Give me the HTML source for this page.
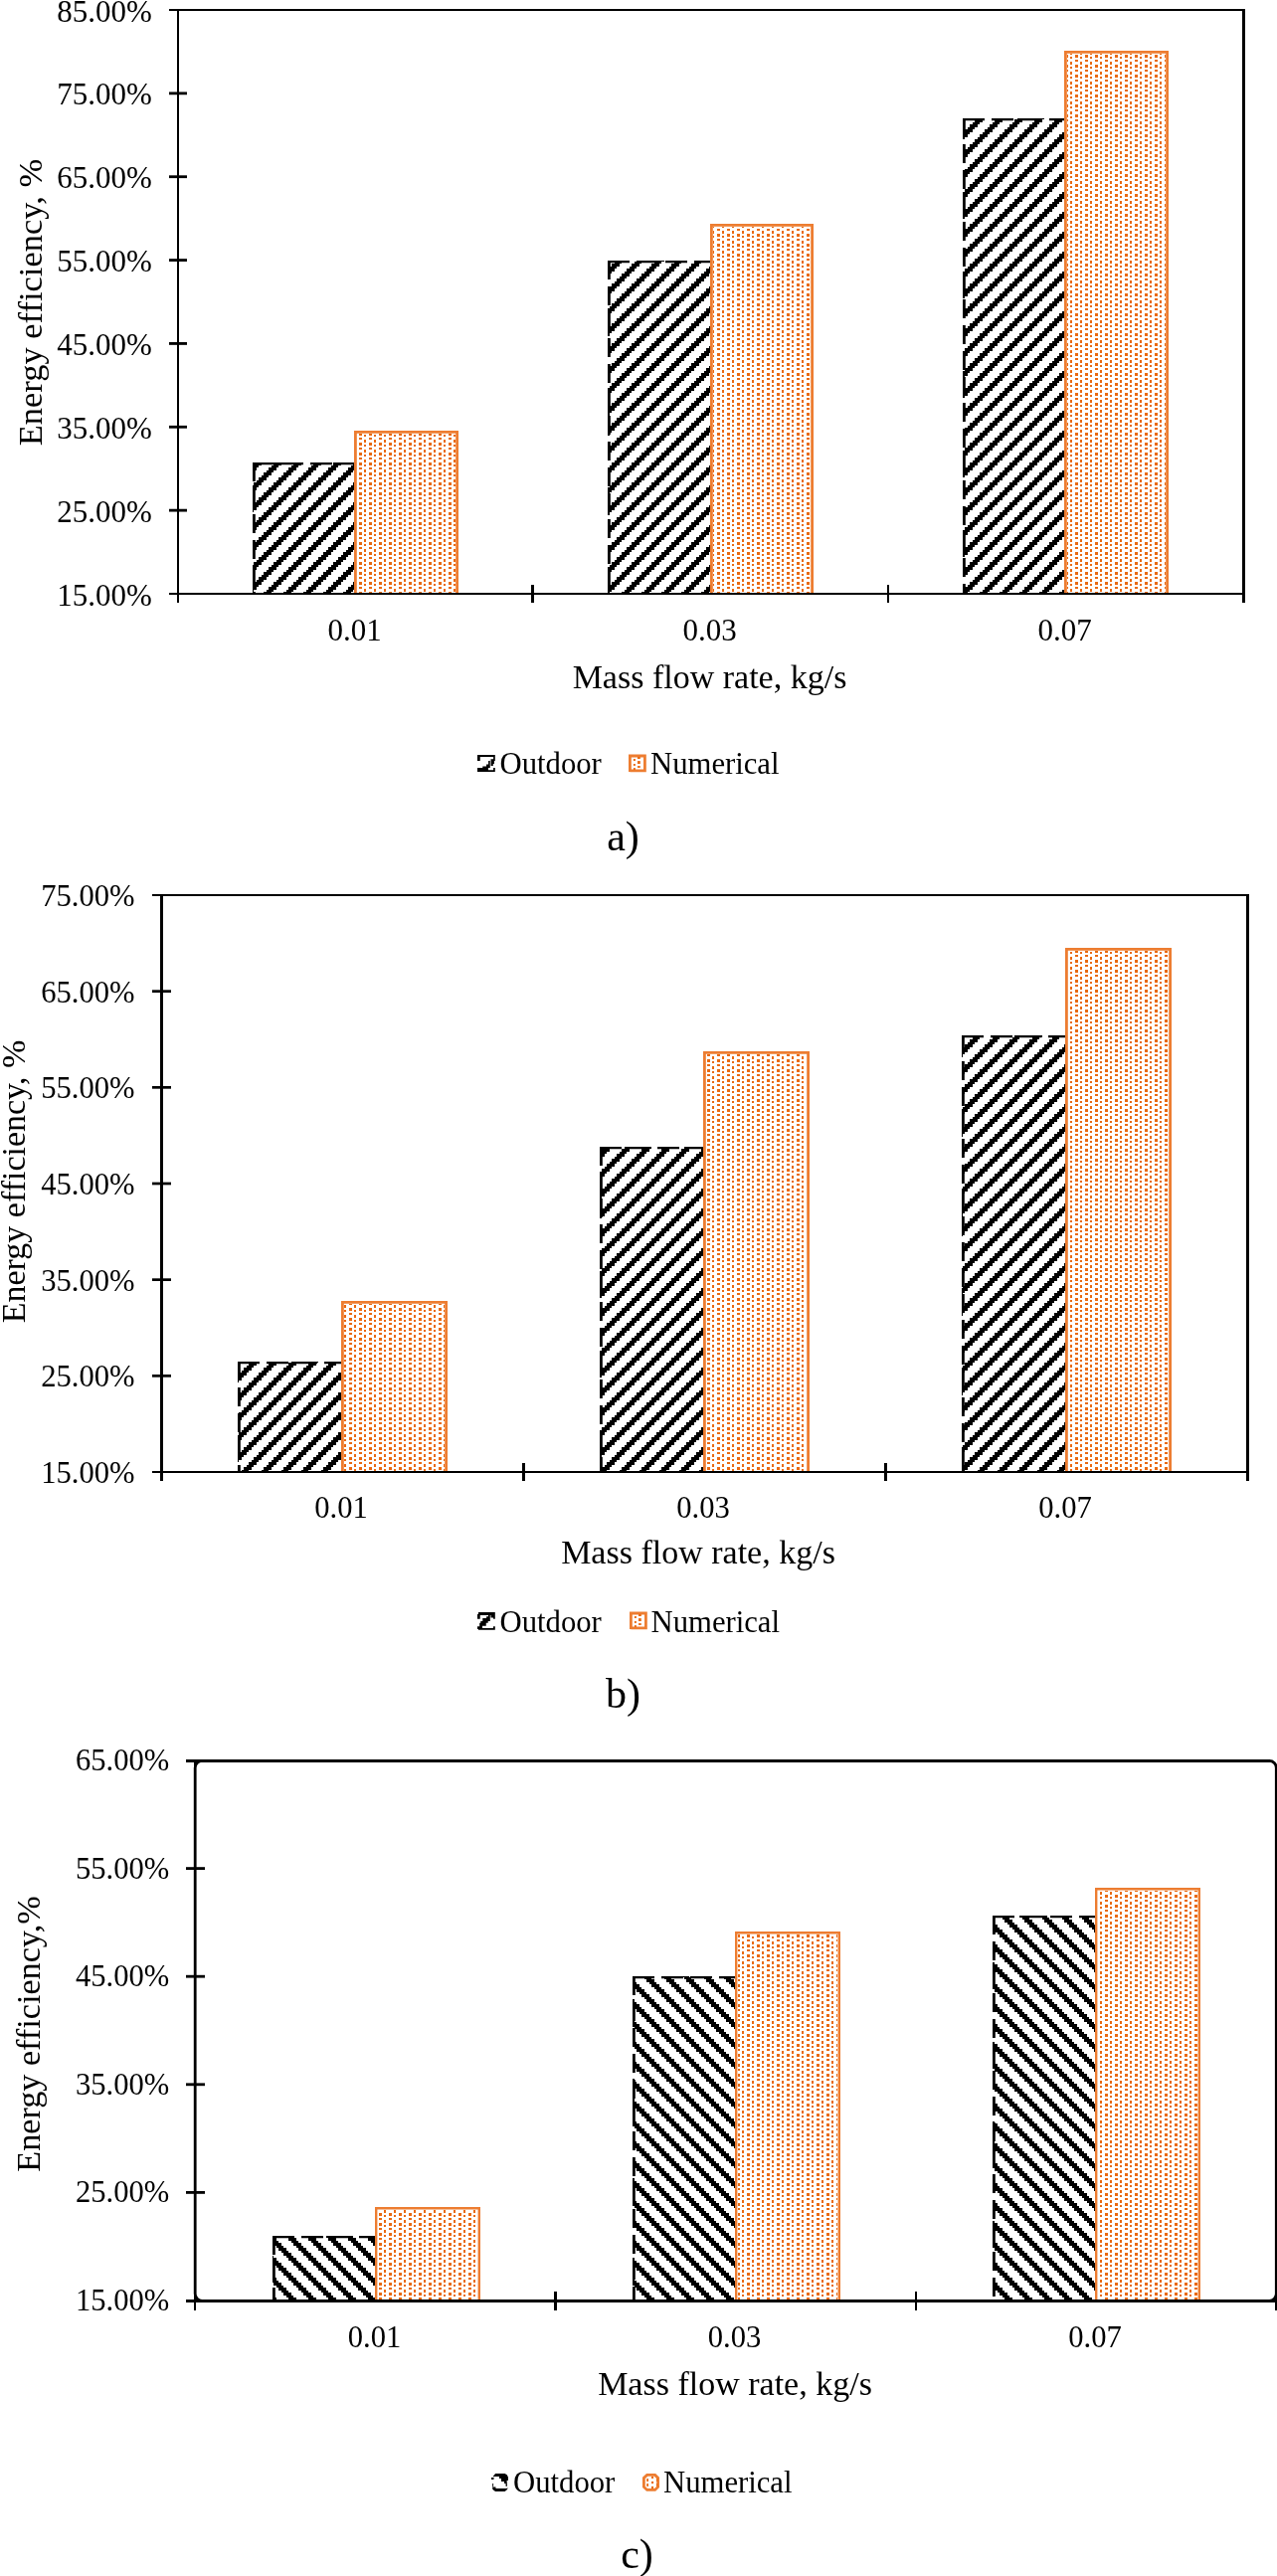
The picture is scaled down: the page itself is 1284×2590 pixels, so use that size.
<!DOCTYPE html>
<html><head><meta charset="utf-8"><title>Energy efficiency charts</title>
<style>html,body{margin:0;padding:0;background:#fff;} svg{display:block;will-change:transform;} text{font-family:"Liberation Serif", serif;fill:#000;}</style>
</head><body>
<svg width="1284" height="2590" viewBox="0 0 1284 2590">
<rect x="0" y="0" width="1284" height="2590" fill="#fff"/>

<defs>
<pattern id="hatchA" patternUnits="userSpaceOnUse" x="0" y="0" width="20" height="20"><g fill="#000" shape-rendering="crispEdges"><rect x="0" y="0" width="8" height="3"/><rect x="0" y="3" width="5" height="2"/><rect x="18" y="3" width="2" height="2"/><rect x="0" y="5" width="3" height="3"/><rect x="15" y="5" width="5" height="3"/><rect x="13" y="8" width="7" height="2"/><rect x="10" y="10" width="8" height="3"/><rect x="8" y="13" width="7" height="2"/><rect x="5" y="15" width="8" height="3"/><rect x="3" y="18" width="7" height="2"/></g></pattern>
<pattern id="hatchC" patternUnits="userSpaceOnUse" x="0" y="0" width="20" height="20"><g fill="#000" shape-rendering="crispEdges"><rect x="0" y="0" width="8" height="3"/><rect x="3" y="3" width="7" height="2"/><rect x="5" y="5" width="8" height="3"/><rect x="8" y="8" width="7" height="2"/><rect x="10" y="10" width="8" height="3"/><rect x="13" y="13" width="7" height="2"/><rect x="0" y="15" width="3" height="3"/><rect x="15" y="15" width="5" height="3"/><rect x="0" y="18" width="5" height="2"/><rect x="18" y="18" width="2" height="2"/></g></pattern>
<pattern id="dots" patternUnits="userSpaceOnUse" x="0" y="0" width="10" height="10">
  <g fill="#E96A12" shape-rendering="crispEdges">
  <rect x="1" y="0" width="3" height="2"/><rect x="1" y="5" width="3" height="3"/>
  <rect x="6" y="2" width="2" height="3"/><rect x="6" y="7" width="2" height="2"/>
  </g>
</pattern>
</defs>
<rect x="254" y="465" width="102" height="131" fill="#fff"/>
<rect x="254" y="465" width="102" height="131" fill="url(#hatchA)"/>
<path d="M254,466.1 H356" fill="none" stroke="#000" stroke-width="2.2" stroke-dasharray="22 7"/>
<path d="M255.4,465 V596" fill="none" stroke="#000" stroke-width="2.8" stroke-dasharray="19 7"/>
<rect x="356" y="433" width="105" height="163" fill="#fff"/>
<rect x="359" y="436" width="99" height="160" fill="url(#dots)"/>
<path d="M357.4,597 V434.4 H459.6 V597" fill="none" stroke="#ED7D31" stroke-width="2.8"/>
<rect x="611" y="262" width="103" height="334" fill="#fff"/>
<rect x="611" y="262" width="103" height="334" fill="url(#hatchA)"/>
<path d="M611,263.1 H714" fill="none" stroke="#000" stroke-width="2.2" stroke-dasharray="22 7"/>
<path d="M612.4,262 V596" fill="none" stroke="#000" stroke-width="2.8" stroke-dasharray="19 7"/>
<rect x="714" y="225" width="104" height="371" fill="#fff"/>
<rect x="717" y="228" width="98" height="368" fill="url(#dots)"/>
<path d="M715.4,597 V226.4 H816.6 V597" fill="none" stroke="#ED7D31" stroke-width="2.8"/>
<rect x="968" y="119" width="102" height="477" fill="#fff"/>
<rect x="968" y="119" width="102" height="477" fill="url(#hatchA)"/>
<path d="M968,120.1 H1070" fill="none" stroke="#000" stroke-width="2.2" stroke-dasharray="22 7"/>
<path d="M969.4,119 V596" fill="none" stroke="#000" stroke-width="2.8" stroke-dasharray="19 7"/>
<rect x="1070" y="51" width="105" height="545" fill="#fff"/>
<rect x="1073" y="54" width="99" height="542" fill="url(#dots)"/>
<path d="M1071.4,597 V52.4 H1173.6 V597" fill="none" stroke="#ED7D31" stroke-width="2.8"/>
<rect x="170" y="9" width="1082" height="2" fill="#000" />
<rect x="178" y="9" width="2" height="597" fill="#000" />
<rect x="1249" y="9" width="3" height="597" fill="#000" />
<rect x="170" y="596" width="1082" height="2" fill="#000" />
<rect x="170" y="92.45714285714286" width="18" height="2.8" fill="#000" />
<rect x="170" y="176.31428571428572" width="18" height="2.8" fill="#000" />
<rect x="170" y="260.1714285714286" width="18" height="2.8" fill="#000" />
<rect x="170" y="344.02857142857147" width="18" height="2.8" fill="#000" />
<rect x="170" y="427.88571428571436" width="18" height="2.8" fill="#000" />
<rect x="170" y="511.74285714285713" width="18" height="2.8" fill="#000" />
<rect x="534" y="588" width="3" height="18" fill="#000" />
<rect x="892" y="588" width="2" height="18" fill="#000" />
<text x="152.8" y="21.6" font-size="31" text-anchor="end" >85.00%</text>
<text x="152.8" y="105.45714285714286" font-size="31" text-anchor="end" >75.00%</text>
<text x="152.8" y="189.31428571428572" font-size="31" text-anchor="end" >65.00%</text>
<text x="152.8" y="273.1714285714286" font-size="31" text-anchor="end" >55.00%</text>
<text x="152.8" y="357.02857142857147" font-size="31" text-anchor="end" >45.00%</text>
<text x="152.8" y="440.88571428571436" font-size="31" text-anchor="end" >35.00%</text>
<text x="152.8" y="524.7428571428571" font-size="31" text-anchor="end" >25.00%</text>
<text x="152.8" y="608.6" font-size="31" text-anchor="end" >15.00%</text>
<text x="356.5" y="643.5" font-size="31" text-anchor="middle" >0.01</text>
<text x="713.5" y="643.5" font-size="31" text-anchor="middle" >0.03</text>
<text x="1070.5" y="643.5" font-size="31" text-anchor="middle" >0.07</text>
<text x="713.5" y="692" font-size="34" text-anchor="middle" >Mass flow rate, kg/s</text>
<text x="0" y="0" font-size="34.5" text-anchor="middle" transform="translate(42,304) rotate(-90)">Energy efficiency, %</text>
<g transform="translate(480,759)" fill="#000"><path d="M0,0 H17.8 V5.9 H16.9 V9 H15.8 V11 H13.6 V4.3 H16.1 V2.04 H2.75 V5.9 H0 Z"/><path d="M11.1,6.1 H12.8 V13 H10.9 V15.3 H16.1 V13 H17.8 V17 H0 V13 H5.3 V11.4 H9.06 V9.4 H11.1 Z"/><rect x="12.8" y="4.3" width="0.8" height="6.7" fill="#888"/></g>
<g transform="translate(632,759)"><path d="M1.4,17 V1 H16.4 V15.9 H1.4" fill="none" stroke="#ED7D31" stroke-width="2.8"/><rect x="4.9" y="4" width="2" height="2" fill="#E96A12"/><rect x="4.9" y="9" width="2" height="1.9" fill="#E96A12"/><rect x="4.9" y="13.1" width="2" height="2" fill="#E96A12"/><rect x="9" y="1.9" width="2.8" height="2.1" fill="#E96A12"/><rect x="9" y="6.1" width="2.8" height="2.9" fill="#E96A12"/><rect x="9" y="11.1" width="2.8" height="1.8" fill="#E96A12"/></g>
<text x="502.5" y="778" font-size="30.7" text-anchor="start" >Outdoor</text>
<text x="654" y="778" font-size="30.7" text-anchor="start" >Numerical</text>
<text x="626.5" y="854.5" font-size="42" text-anchor="middle" >a)</text>
<rect x="239" y="1369" width="104" height="110" fill="#fff"/>
<rect x="239" y="1369" width="104" height="110" fill="url(#hatchA)"/>
<path d="M239,1370.1 H343" fill="none" stroke="#000" stroke-width="2.2" stroke-dasharray="22 7"/>
<path d="M240.4,1369 V1479" fill="none" stroke="#000" stroke-width="2.8" stroke-dasharray="19 7"/>
<rect x="343" y="1308" width="107" height="171" fill="#fff"/>
<rect x="346" y="1311" width="101" height="168" fill="url(#dots)"/>
<path d="M344.4,1480 V1309.4 H448.6 V1480" fill="none" stroke="#ED7D31" stroke-width="2.8"/>
<rect x="603" y="1153" width="104" height="326" fill="#fff"/>
<rect x="603" y="1153" width="104" height="326" fill="url(#hatchA)"/>
<path d="M603,1154.1 H707" fill="none" stroke="#000" stroke-width="2.2" stroke-dasharray="22 7"/>
<path d="M604.4,1153 V1479" fill="none" stroke="#000" stroke-width="2.8" stroke-dasharray="19 7"/>
<rect x="707" y="1057" width="107" height="422" fill="#fff"/>
<rect x="710" y="1060" width="101" height="419" fill="url(#dots)"/>
<path d="M708.4,1480 V1058.4 H812.6 V1480" fill="none" stroke="#ED7D31" stroke-width="2.8"/>
<rect x="967" y="1041" width="104" height="438" fill="#fff"/>
<rect x="967" y="1041" width="104" height="438" fill="url(#hatchA)"/>
<path d="M967,1042.1 H1071" fill="none" stroke="#000" stroke-width="2.2" stroke-dasharray="22 7"/>
<path d="M968.4,1041 V1479" fill="none" stroke="#000" stroke-width="2.8" stroke-dasharray="19 7"/>
<rect x="1071" y="953" width="107" height="526" fill="#fff"/>
<rect x="1074" y="956" width="101" height="523" fill="url(#dots)"/>
<path d="M1072.4,1480 V954.4 H1176.6 V1480" fill="none" stroke="#ED7D31" stroke-width="2.8"/>
<rect x="153" y="899" width="1103" height="2" fill="#000" />
<rect x="161" y="899" width="3" height="590" fill="#000" />
<rect x="1253" y="899" width="3" height="590" fill="#000" />
<rect x="153" y="1479" width="1103" height="2" fill="#000" />
<rect x="153" y="995.3166666666666" width="19" height="2.7" fill="#000" />
<rect x="153" y="1091.9833333333333" width="19" height="2.7" fill="#000" />
<rect x="153" y="1188.65" width="19" height="2.7" fill="#000" />
<rect x="153" y="1285.3166666666668" width="19" height="2.7" fill="#000" />
<rect x="153" y="1381.9833333333336" width="19" height="2.7" fill="#000" />
<rect x="525" y="1471" width="3" height="18" fill="#000" />
<rect x="889" y="1471" width="3" height="18" fill="#000" />
<text x="135.6" y="911.0" font-size="30.6" text-anchor="end" >75.00%</text>
<text x="135.6" y="1007.6666666666666" font-size="30.6" text-anchor="end" >65.00%</text>
<text x="135.6" y="1104.3333333333333" font-size="30.6" text-anchor="end" >55.00%</text>
<text x="135.6" y="1201.0" font-size="30.6" text-anchor="end" >45.00%</text>
<text x="135.6" y="1297.6666666666667" font-size="30.6" text-anchor="end" >35.00%</text>
<text x="135.6" y="1394.3333333333335" font-size="30.6" text-anchor="end" >25.00%</text>
<text x="135.6" y="1491.0" font-size="30.6" text-anchor="end" >15.00%</text>
<text x="343" y="1526.3" font-size="30.6" text-anchor="middle" >0.01</text>
<text x="707" y="1526.3" font-size="30.6" text-anchor="middle" >0.03</text>
<text x="1071" y="1526.3" font-size="30.6" text-anchor="middle" >0.07</text>
<text x="702" y="1572.4" font-size="34" text-anchor="middle" >Mass flow rate, kg/s</text>
<text x="0" y="0" font-size="34" text-anchor="middle" transform="translate(25,1188) rotate(-90)">Energy efficiency, %</text>
<g transform="translate(480,1621)" fill="#000"><path d="M1,0 H17.8 V6.8 H16.1 V5.4 H14.05 V2.95 H2.75 V6.8 H0 V2 H1 Z"/><path d="M11,2.95 H12.8 V8.9 H10.7 V10.7 H8.75 V13.75 H5 V16 H16 V14.15 H17.8 V17.8 H1 V17 H0 V14.15 H2.2 V10.7 H3.3 V8.9 H5.3 V6.1 H9.1 V4.2 H11 Z"/><rect x="12.8" y="2.95" width="1.25" height="2.45" fill="#777"/></g>
<g transform="translate(633,1621)"><path d="M1.4,17 V1 H16.4 V15.9 H1.4" fill="none" stroke="#ED7D31" stroke-width="2.8"/><rect x="4.9" y="4" width="2" height="2" fill="#E96A12"/><rect x="4.9" y="9" width="2" height="1.9" fill="#E96A12"/><rect x="4.9" y="13.1" width="2" height="2" fill="#E96A12"/><rect x="9" y="1.9" width="2.8" height="2.1" fill="#E96A12"/><rect x="9" y="6.1" width="2.8" height="2.9" fill="#E96A12"/><rect x="9" y="11.1" width="2.8" height="1.8" fill="#E96A12"/></g>
<text x="502.5" y="1640.5" font-size="30.7" text-anchor="start" >Outdoor</text>
<text x="654.5" y="1640.5" font-size="30.7" text-anchor="start" >Numerical</text>
<text x="626.5" y="1716.5" font-size="42" text-anchor="middle" >b)</text>
<rect x="274" y="2248" width="103" height="64" fill="#fff"/>
<rect x="274" y="2248" width="103" height="64" fill="url(#hatchC)"/>
<path d="M274,2249.1 H377" fill="none" stroke="#000" stroke-width="2.2" stroke-dasharray="22 7"/>
<path d="M275.4,2248 V2312" fill="none" stroke="#000" stroke-width="2.8" stroke-dasharray="19 7"/>
<rect x="377" y="2219" width="106" height="93" fill="#fff"/>
<rect x="380" y="2222" width="100" height="90" fill="url(#dots)"/>
<path d="M378.2,2313 V2220.2 H481.8 V2313" fill="none" stroke="#ED7D31" stroke-width="2.4"/>
<rect x="636" y="1987" width="103" height="325" fill="#fff"/>
<rect x="636" y="1987" width="103" height="325" fill="url(#hatchC)"/>
<path d="M636,1988.1 H739" fill="none" stroke="#000" stroke-width="2.2" stroke-dasharray="22 7"/>
<path d="M637.4,1987 V2312" fill="none" stroke="#000" stroke-width="2.8" stroke-dasharray="19 7"/>
<rect x="739" y="1942" width="106" height="370" fill="#fff"/>
<rect x="742" y="1945" width="100" height="367" fill="url(#dots)"/>
<path d="M740.2,2313 V1943.2 H843.8 V2313" fill="none" stroke="#ED7D31" stroke-width="2.4"/>
<rect x="998" y="1926" width="103" height="386" fill="#fff"/>
<rect x="998" y="1926" width="103" height="386" fill="url(#hatchC)"/>
<path d="M998,1927.1 H1101" fill="none" stroke="#000" stroke-width="2.2" stroke-dasharray="22 7"/>
<path d="M999.4,1926 V2312" fill="none" stroke="#000" stroke-width="2.8" stroke-dasharray="19 7"/>
<rect x="1101" y="1898" width="106" height="414" fill="#fff"/>
<rect x="1104" y="1901" width="100" height="411" fill="url(#dots)"/>
<path d="M1102.2,2313 V1899.2 H1205.8 V2313" fill="none" stroke="#ED7D31" stroke-width="2.4"/>
<rect x="196.2" y="1770.4" width="1087.1" height="542.9000000000001" rx="7" ry="7" fill="none" stroke="#000" stroke-width="2.8"/>
<rect x="187" y="1769" width="1090" height="3" fill="#000" />
<rect x="195" y="1769" width="2" height="554" fill="#000" />
<rect x="1282" y="1778" width="3" height="545" fill="#000" />
<rect x="187" y="2312" width="1098" height="3" fill="#000" />
<rect x="187" y="1877.1999999999998" width="19" height="2.8" fill="#000" />
<rect x="187" y="1985.8" width="19" height="2.8" fill="#000" />
<rect x="187" y="2094.4" width="19" height="2.8" fill="#000" />
<rect x="187" y="2203.0" width="19" height="2.8" fill="#000" />
<rect x="557" y="2304" width="3" height="19" fill="#000" />
<rect x="920" y="2304" width="2" height="19" fill="#000" />
<text x="170.3" y="1780.0" font-size="30.6" text-anchor="end" >65.00%</text>
<text x="170.3" y="1888.6" font-size="30.6" text-anchor="end" >55.00%</text>
<text x="170.3" y="1997.2" font-size="30.6" text-anchor="end" >45.00%</text>
<text x="170.3" y="2105.8" font-size="30.6" text-anchor="end" >35.00%</text>
<text x="170.3" y="2214.4" font-size="30.6" text-anchor="end" >25.00%</text>
<text x="170.3" y="2323.0" font-size="30.6" text-anchor="end" >15.00%</text>
<text x="376.5" y="2360.3" font-size="30.6" text-anchor="middle" >0.01</text>
<text x="738.5" y="2360.3" font-size="30.6" text-anchor="middle" >0.03</text>
<text x="1101" y="2360.3" font-size="30.6" text-anchor="middle" >0.07</text>
<text x="739" y="2408" font-size="34" text-anchor="middle" >Mass flow rate, kg/s</text>
<text x="0" y="0" font-size="34.2" text-anchor="middle" transform="translate(40,2045) rotate(-90)">Energy efficiency,%</text>
<g transform="translate(494,2487)" fill="#000"><path d="M4.1,0 H13.6 L15.7,1.3 L16.9,3.5 V7 H15.6 L16,12.8 H14.6 L14.5,10 H13 V7.9 H10 V5.1 H8 V3 H2.8 L2,3.5 L2,2.6 Z"/><rect x="0" y="4" width="2.5" height="2"/><rect x="1.2" y="10" width="0.9" height="3.4"/><path d="M1.2,13.4 H4.5 V15 H15 L16.9,14.5 L15.5,16.5 L13.6,17.9 H4.1 L2,16.5 L1.2,15.5 Z"/></g>
<g transform="translate(646,2487)"><path d="M4.6,1.4 H12.6 L15.6,4.4 V13.4 L12.6,16.4 H4.6 L1.4,13.4 V4.4 Z" fill="none" stroke="#ED7D31" stroke-width="2.8"/><rect x="4.2" y="5.1" width="1.8" height="2.9" fill="#E96A12"/><rect x="4.2" y="10.1" width="1.8" height="2.8" fill="#E96A12"/><rect x="9" y="2.9" width="2.1" height="2.1" fill="#E96A12"/><rect x="9" y="7.9" width="2.1" height="2.2" fill="#E96A12"/><rect x="9" y="12.9" width="2.1" height="2.2" fill="#E96A12"/><rect x="14" y="5" width="1.1" height="3" fill="#E96A12"/><rect x="14" y="10" width="1.1" height="2.9" fill="#E96A12"/></g>
<text x="516" y="2506" font-size="30.7" text-anchor="start" >Outdoor</text>
<text x="667" y="2506" font-size="30.7" text-anchor="start" >Numerical</text>
<text x="640.5" y="2581.5" font-size="42" text-anchor="middle" >c)</text>
</svg>
</body></html>
